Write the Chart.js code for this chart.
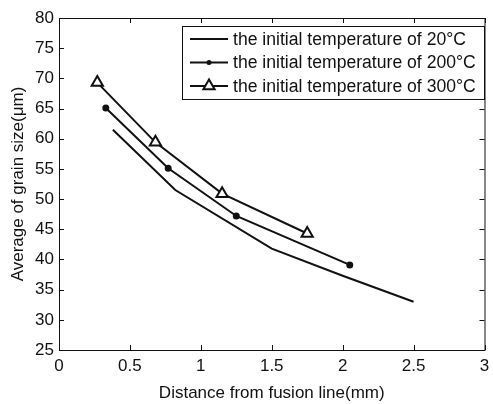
<!DOCTYPE html>
<html>
<head>
<meta charset="utf-8">
<script src="https://cdn.jsdelivr.net/npm/chart.js@4/dist/chart.umd.min.js"></script>
<style>
  html,body{margin:0;padding:0;background:#fff}
  #wrap{width:493px;height:404px;position:relative}
</style>
</head>
<body>
<div id="wrap"><canvas id="chart" width="493" height="404"></canvas></div>
<script>
// data
const labels20 = 'the initial temperature of 20\u00b0C'
const labels200 = 'the initial temperature of 200\u00b0C'
const labels300 = 'the initial temperature of 300\u00b0C'
const x20 = [0.38, 0.82, 1.5, 2.0, 2.5]
const y20 = [61.5, 51.5, 41.8, 37.3, 33.0]
const x200 = [0.33, 0.77, 1.25, 2.05]
const y200 = [65.1, 55.1, 47.2, 39.1]
const x300 = [0.27, 0.68, 1.15, 1.75]
const y300 = [69.3, 59.4, 50.9, 44.3]
const xTicks = [0, 0.5, 1, 1.5, 2, 2.5, 3]
const yTicks = [25, 30, 35, 40, 45, 50, 55, 60, 65, 70, 75, 80]

const ink = '#111'
const font = 'Liberation Sans, Arial, Helvetica, sans-serif'
const fsize = 17
const pts = (xs, ys) => xs.map((x, i) => ({x, y: ys[i]}))

const series = [
  {label: labels20, data: pts(x20, y20), pointStyle: 'line', pointRadius: 0},
  {label: labels200, data: pts(x200, y200), pointStyle: 'circle', pointRadius: 2.5},
  {label: labels300, data: pts(x300, y300), pointStyle: 'triangle', pointRadius: 6.5}
]

// frame, inward ticks on every side, and a boxed legend
const framePlugin = {
  id: 'frame',
  afterDraw(chart){
    const ctx = chart.ctx
    const a = chart.chartArea
    const sx = chart.scales.x, sy = chart.scales.y
    ctx.save()
    ctx.strokeStyle = ink
    ctx.lineWidth = 1
    ctx.strokeRect(a.left + 0.5, a.top + 0.5, a.right - a.left, a.bottom - a.top)
    const t = 5
    xTicks.forEach(v => {
      const px = Math.round(sx.getPixelForValue(v)) + 0.5
      ctx.beginPath()
      ctx.moveTo(px, a.bottom); ctx.lineTo(px, a.bottom - t)
      ctx.moveTo(px, a.top); ctx.lineTo(px, a.top + t)
      ctx.stroke()
    })
    yTicks.forEach(v => {
      const py = Math.round(sy.getPixelForValue(v)) + 0.5
      ctx.beginPath()
      ctx.moveTo(a.left, py); ctx.lineTo(a.left + t, py)
      ctx.moveTo(a.right, py); ctx.lineTo(a.right - t, py)
      ctx.stroke()
    })

    // legend box
    const lx = 182, ly = 26, lw = 302, lh = 73
    ctx.fillStyle = '#fff'
    ctx.fillRect(lx, ly, lw, lh)
    ctx.strokeRect(lx + 0.5, ly + 0.5, lw, lh)
    ctx.font = '17.6px ' + font
    ctx.textBaseline = 'middle'
    series.forEach((s, i) => {
      const cy = ly + 13 + i * 23.5
      ctx.strokeStyle = ink
      ctx.lineWidth = 2
      ctx.beginPath()
      ctx.moveTo(lx + 8, cy); ctx.lineTo(lx + 46, cy)
      ctx.stroke()
      if (s.pointStyle === 'circle') {
        ctx.fillStyle = ink
        ctx.beginPath(); ctx.arc(lx + 27, cy, 2.5, 0, Math.PI * 2); ctx.fill()
      } else if (s.pointStyle === 'triangle') {
        const r = 6.5
        ctx.fillStyle = '#fff'
        ctx.beginPath()
        ctx.moveTo(lx + 27, cy - r)
        ctx.lineTo(lx + 27 + r * 0.866, cy + r * 0.5)
        ctx.lineTo(lx + 27 - r * 0.866, cy + r * 0.5)
        ctx.closePath(); ctx.fill(); ctx.stroke()
      }
      ctx.fillStyle = ink
      ctx.fillText(s.label, lx + 51, cy + 1)
    })
    ctx.restore()
  }
}

new Chart(document.getElementById('chart'), {
  type: 'scatter',
  data: {
    datasets: series.map(s => ({
      label: s.label,
      data: s.data,
      showLine: true,
      borderColor: ink,
      borderWidth: 2,
      pointStyle: s.pointStyle,
      pointRadius: s.pointRadius,
      pointBorderWidth: 2,
      pointBorderColor: ink,
      pointBackgroundColor: s.pointStyle === 'triangle' ? '#fff' : ink,
      tension: 0
    }))
  },
  options: {
    responsive: false,
    animation: false,
    layout: {padding: {left: 0, right: 5, top: 18, bottom: 0}},
    plugins: {legend: {display: false}, tooltip: {enabled: false}},
    scales: {
      x: {
        type: 'linear', min: 0, max: 3,
        afterBuildTicks: sc => { sc.ticks = xTicks.map(v => ({value: v})) },
        afterFit: sc => { sc.height = 54; sc.paddingLeft = 0; sc.paddingRight = 0 },
        grid: {display: false, drawTicks: false},
        border: {display: false},
        ticks: {color: ink, font: {family: font, size: fsize}, padding: 6, maxRotation: 0,
          callback: v => String(v)},
        title: {display: true, text: 'Distance from fusion line(mm)', color: ink,
          font: {family: font, size: fsize}, padding: {top: 6, bottom: 0}}
      },
      y: {
        type: 'linear', min: 25, max: 80,
        afterBuildTicks: sc => { sc.ticks = yTicks.map(v => ({value: v})) },
        afterFit: sc => { sc.width = 59; sc.paddingTop = 0; sc.paddingBottom = 0 },
        grid: {display: false, drawTicks: false},
        border: {display: false},
        ticks: {color: ink, font: {family: font, size: fsize}, padding: 5,
          callback: v => String(v)},
        title: {display: true, text: 'Average of grain size(\u03bcm)', color: ink,
          font: {family: font, size: fsize}, padding: {top: 8, bottom: 2}}
      }
    }
  },
  plugins: [framePlugin]
})
</script>
</body>
</html>
